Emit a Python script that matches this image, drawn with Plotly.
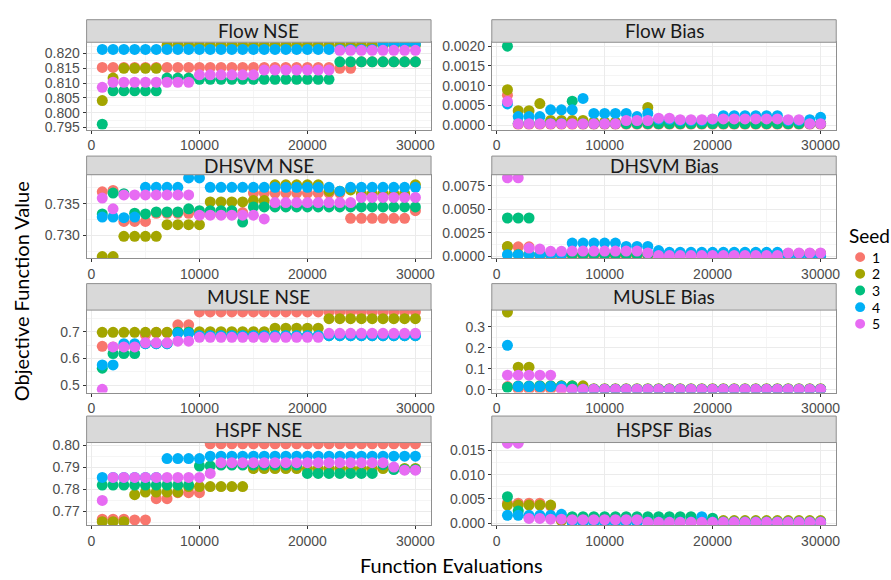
import plotly.graph_objects as go

# Function evaluations at which each seed's best objective was recorded
evals = [1000, 2000, 3000, 4000, 5000, 6000, 7000, 8000, 9000, 10000,
         11000, 12000, 13000, 14000, 15000, 16000, 17000, 18000, 19000, 20000,
         21000, 22000, 23000, 24000, 25000, 26000, 27000, 28000, 29000, 30000]

seeds = ["1", "2", "3", "4", "5"]
seed_colors = ["#F8766D", "#A3A500", "#00BF7D", "#00B0F6", "#E76BF3"]

panel_titles = ["Flow NSE", "Flow Bias", "DHSVM NSE", "DHSVM Bias",
                "MUSLE NSE", "MUSLE Bias", "HSPF NSE", "HSPSF Bias"]

# ---- series per panel: one list per seed (1..5) ----
flow_nse = [
    [0.8153, 0.8153, 0.8153, 0.8153, 0.8153, 0.8153, 0.8153, 0.8153, 0.8153, 0.8153,
     0.8153, 0.8153, 0.8153, 0.8153, 0.8153, 0.8153, 0.8153, 0.8153, 0.8153, 0.8153,
     0.8153, 0.8153, 0.8150, 0.8150, 0.8172, 0.8172, 0.8172, 0.8172, 0.8172, 0.8172],
    [0.8041, 0.8117, 0.8150, 0.8150, 0.8150, 0.8150, 0.8228, 0.8228, 0.8228, 0.8228,
     0.8228, 0.8228, 0.8228, 0.8228, 0.8228, 0.8228, 0.8228, 0.8228, 0.8228, 0.8228,
     0.8228, 0.8228, 0.8228, 0.8228, 0.8228, 0.8228, 0.8228, 0.8228, 0.8228, 0.8228],
    [0.7961, 0.8074, 0.8074, 0.8074, 0.8074, 0.8074, 0.8117, 0.8117, 0.8117, 0.8113,
     0.8113, 0.8113, 0.8113, 0.8113, 0.8113, 0.8113, 0.8113, 0.8113, 0.8113, 0.8113,
     0.8113, 0.8113, 0.8172, 0.8172, 0.8172, 0.8172, 0.8172, 0.8172, 0.8172, 0.8172],
    [0.8214, 0.8214, 0.8214, 0.8214, 0.8214, 0.8214, 0.8214, 0.8214, 0.8214, 0.8214,
     0.8214, 0.8214, 0.8214, 0.8214, 0.8214, 0.8214, 0.8214, 0.8214, 0.8214, 0.8214,
     0.8214, 0.8214, 0.8214, 0.8214, 0.8214, 0.8214, 0.8232, 0.8232, 0.8232, 0.8232],
    [0.8086, 0.8103, 0.8103, 0.8103, 0.8103, 0.8103, 0.8103, 0.8103, 0.8103, 0.8128,
     0.8128, 0.8128, 0.8128, 0.8128, 0.8128, 0.8144, 0.8144, 0.8144, 0.8144, 0.8144,
     0.8144, 0.8144, 0.8211, 0.8211, 0.8211, 0.8211, 0.8211, 0.8211, 0.8211, 0.8211],
]

flow_bias = [
    [0.00076, 0.00002, 0.00002, 0.00002, 0.00002, 0.00002, 0.00002, 0.00002, 0.00002, 0.00002,
     0.00002, 0.00002, 0.00002, 0.00002, 0.00002, 0.00002, 0.00002, 0.00002, 0.00002, 0.00002,
     0.00002, 0.00002, 0.00002, 0.00002, 0.00002, 0.00002, 0.00002, 0.00002, 0.00002, 0.00002],
    [0.00090, 0.00037, 0.00037, 0.00055, 0.00012, 0.00012, 0.00012, 0.00012, 0.00008, 0.00008,
     0.00008, 0.00008, 0.00008, 0.00045, 0.00005, 0.00005, 0.00005, 0.00005, 0.00005, 0.00005,
     0.00005, 0.00005, 0.00005, 0.00005, 0.00005, 0.00005, 0.00005, 0.00005, 0.00005, 0.00005],
    [0.00200, 0.00005, 0.00005, 0.00005, 0.00005, 0.00005, 0.00061, 0.00004, 0.00004, 0.00004,
     0.00004, 0.00004, 0.00004, 0.00004, 0.00004, 0.00004, 0.00004, 0.00004, 0.00004, 0.00004,
     0.00004, 0.00004, 0.00004, 0.00004, 0.00004, 0.00004, 0.00004, 0.00004, 0.00004, 0.00004],
    [0.00054, 0.00022, 0.00022, 0.00022, 0.00039, 0.00039, 0.00039, 0.00068, 0.00030, 0.00030,
     0.00030, 0.00030, 0.00022, 0.00030, 0.00015, 0.00015, 0.00012, 0.00012, 0.00012, 0.00015,
     0.00024, 0.00024, 0.00024, 0.00024, 0.00024, 0.00024, 0.00012, 0.00012, 0.00014, 0.00020],
    [0.00060, 0.00004, 0.00004, 0.00004, 0.00004, 0.00004, 0.00004, 0.00004, 0.00004, 0.00004,
     0.00004, 0.00012, 0.00012, 0.00012, 0.00018, 0.00018, 0.00014, 0.00014, 0.00014, 0.00016,
     0.00016, 0.00016, 0.00016, 0.00016, 0.00016, 0.00016, 0.00014, 0.00014, 0.00004, 0.00004],
]

dhsvm_nse = [
    [0.7369, 0.7371, 0.7322, 0.7322, 0.7322, 0.7335, 0.7335, 0.7335, 0.7335, 0.7333,
     0.7333, 0.7333, 0.7333, 0.7336, 0.7367, 0.7367, 0.7367, 0.7367, 0.7367, 0.7367,
     0.7367, 0.7367, 0.7367, 0.7327, 0.7327, 0.7327, 0.7327, 0.7327, 0.7327, 0.7339],
    [0.72665, 0.72665, 0.72985, 0.72985, 0.72985, 0.72985, 0.7317, 0.7317, 0.7317, 0.7317,
     0.7353, 0.7353, 0.7353, 0.7353, 0.7355, 0.7355, 0.7380, 0.7380, 0.7380, 0.7380,
     0.7380, 0.7370, 0.7370, 0.7372, 0.7366, 0.7366, 0.7366, 0.7366, 0.7366, 0.7380],
    [0.7334, 0.7367, 0.7366, 0.7335, 0.7334, 0.7337, 0.7337, 0.7337, 0.7342, 0.7339,
     0.7339, 0.7339, 0.7339, 0.7321, 0.7345, 0.7345, 0.7345, 0.7345, 0.7345, 0.7345,
     0.7345, 0.7345, 0.7345, 0.7345, 0.7345, 0.7345, 0.7345, 0.7345, 0.7345, 0.7345],
    [0.7329, 0.7329, 0.7328, 0.7329, 0.7376, 0.7376, 0.7376, 0.7376, 0.7391, 0.7391,
     0.7376, 0.7376, 0.7376, 0.7376, 0.7376, 0.7376, 0.7376, 0.7376, 0.7376, 0.7376,
     0.7376, 0.7376, 0.7370, 0.7376, 0.7376, 0.7376, 0.7376, 0.7376, 0.7376, 0.7376],
    [0.7359, 0.7342, 0.7364, 0.7364, 0.7364, 0.7364, 0.7364, 0.7364, 0.7364, 0.7332,
     0.7332, 0.7332, 0.7332, 0.7332, 0.7332, 0.7326, 0.7352, 0.7352, 0.7352, 0.7352,
     0.7352, 0.7352, 0.7352, 0.7352, 0.7360, 0.7360, 0.7360, 0.7360, 0.7360, 0.7360],
]

dhsvm_bias = [
    [0.00100, 0.00100, 0.00100, 0.00005, 0.00005, 0.00005, 0.00005, 0.00005, 0.00005, 0.00005,
     0.00005, 0.00005, 0.00005, 0.00005, 0.00005, 0.00005, 0.00005, 0.00005, 0.00005, 0.00005,
     0.00005, 0.00005, 0.00005, 0.00005, 0.00005, 0.00005, 0.00005, 0.00005, 0.00005, 0.00005],
    [0.00105, 0.00020, 0.00020, 0.00020, 0.00020, 0.00020, 0.00020, 0.00020, 0.00020, 0.00020,
     0.00020, 0.00020, 0.00020, 0.00020, 0.00030, 0.00030, 0.00030, 0.00030, 0.00030, 0.00030,
     0.00030, 0.00030, 0.00030, 0.00030, 0.00030, 0.00030, 0.00030, 0.00030, 0.00030, 0.00030],
    [0.00408, 0.00408, 0.00408, 0.00020, 0.00020, 0.00020, 0.00020, 0.00020, 0.00020, 0.00020,
     0.00020, 0.00020, 0.00020, 0.00020, 0.00020, 0.00020, 0.00020, 0.00020, 0.00020, 0.00020,
     0.00020, 0.00035, 0.00035, 0.00035, 0.00035, 0.00020, 0.00020, 0.00020, 0.00020, 0.00020],
    [0.00017, 0.00017, 0.00017, 0.00017, 0.00017, 0.00017, 0.00140, 0.00140, 0.00140, 0.00140,
     0.00140, 0.00105, 0.00105, 0.00105, 0.00060, 0.00042, 0.00042, 0.00042, 0.00042, 0.00042,
     0.00042, 0.00042, 0.00042, 0.00042, 0.00042, 0.00042, 0.00002, 0.00002, 0.00002, 0.00002],
    [0.00837, 0.00837, 0.00087, 0.00077, 0.00052, 0.00052, 0.00055, 0.00055, 0.00055, 0.00055,
     0.00055, 0.00055, 0.00055, 0.00035, 0.00007, 0.00007, 0.00007, 0.00007, 0.00007, 0.00007,
     0.00007, 0.00007, 0.00007, 0.00007, 0.00007, 0.00007, 0.00035, 0.00035, 0.00035, 0.00035],
]

musle_nse = [
    [0.645, 0.643, 0.643, 0.643, 0.688, 0.697, 0.697, 0.7256, 0.7256, 0.774,
     0.774, 0.774, 0.774, 0.774, 0.774, 0.774, 0.774, 0.774, 0.774, 0.774,
     0.774, 0.774, 0.774, 0.774, 0.774, 0.774, 0.774, 0.774, 0.774, 0.774],
    [0.6976, 0.6976, 0.6976, 0.6976, 0.6976, 0.6976, 0.6976, 0.6976, 0.6976, 0.700,
     0.700, 0.700, 0.700, 0.700, 0.700, 0.700, 0.713, 0.713, 0.713, 0.713,
     0.713, 0.749, 0.749, 0.749, 0.749, 0.749, 0.749, 0.749, 0.749, 0.749],
    [0.5634, 0.618, 0.618, 0.618, 0.655, 0.655, 0.655, 0.698, 0.698, 0.685,
     0.685, 0.685, 0.685, 0.685, 0.685, 0.685, 0.685, 0.685, 0.685, 0.685,
     0.685, 0.685, 0.685, 0.685, 0.685, 0.685, 0.685, 0.685, 0.685, 0.685],
    [0.5756, 0.5756, 0.655, 0.655, 0.655, 0.655, 0.655, 0.694, 0.694, 0.685,
     0.685, 0.685, 0.685, 0.685, 0.685, 0.685, 0.685, 0.685, 0.685, 0.685,
     0.685, 0.685, 0.685, 0.685, 0.685, 0.685, 0.685, 0.685, 0.685, 0.685],
    [0.484, 0.643, 0.643, 0.643, 0.6585, 0.6585, 0.6585, 0.6646, 0.6646, 0.679,
     0.679, 0.679, 0.679, 0.679, 0.679, 0.679, 0.679, 0.679, 0.679, 0.679,
     0.679, 0.694, 0.694, 0.694, 0.694, 0.694, 0.694, 0.694, 0.694, 0.694],
]

musle_bias = [
    [0.0155, 0.003, 0.003, 0.003, 0.003, 0.003, 0.003, 0.003, 0.003, 0.003,
     0.003, 0.003, 0.003, 0.003, 0.003, 0.003, 0.003, 0.003, 0.003, 0.003,
     0.003, 0.003, 0.003, 0.003, 0.003, 0.003, 0.003, 0.003, 0.003, 0.003],
    [0.371, 0.108, 0.108, 0.019, 0.019, 0.019, 0.019, 0.019, 0.005, 0.005,
     0.005, 0.005, 0.005, 0.005, 0.005, 0.005, 0.005, 0.005, 0.005, 0.005,
     0.005, 0.005, 0.005, 0.005, 0.005, 0.005, 0.005, 0.005, 0.005, 0.005],
    [0.012, 0.018, 0.018, 0.018, 0.018, 0.018, 0.0186, 0.003, 0.003, 0.003,
     0.003, 0.003, 0.003, 0.003, 0.003, 0.003, 0.003, 0.003, 0.003, 0.003,
     0.003, 0.003, 0.003, 0.003, 0.003, 0.003, 0.003, 0.003, 0.003, 0.003],
    [0.212, 0.0155, 0.0155, 0.0155, 0.0155, 0.0155, 0.002, 0.002, 0.002, 0.002,
     0.002, 0.002, 0.002, 0.002, 0.002, 0.002, 0.002, 0.002, 0.002, 0.002,
     0.002, 0.002, 0.002, 0.002, 0.002, 0.002, 0.002, 0.002, 0.002, 0.002],
    [0.0696, 0.0696, 0.0696, 0.0696, 0.0696, 0.002, 0.002, 0.002, 0.002, 0.002,
     0.002, 0.002, 0.002, 0.002, 0.002, 0.002, 0.002, 0.002, 0.002, 0.002,
     0.002, 0.002, 0.002, 0.002, 0.002, 0.002, 0.002, 0.002, 0.002, 0.002],
]

hspf_nse = [
    [0.7663, 0.7663, 0.7663, 0.7660, 0.7660, 0.7757, 0.7757, 0.7784, 0.7784, 0.7784,
     0.8007, 0.8007, 0.8007, 0.8007, 0.8007, 0.8007, 0.8007, 0.8007, 0.8007, 0.8007,
     0.8007, 0.8007, 0.8007, 0.8007, 0.8007, 0.8007, 0.8007, 0.8007, 0.8007, 0.8007],
    [0.7652, 0.7652, 0.7652, 0.7775, 0.7787, 0.7787, 0.7787, 0.7787, 0.7812, 0.7812,
     0.7812, 0.7812, 0.7812, 0.7812, 0.7894, 0.7894, 0.7894, 0.7894, 0.7894, 0.7894,
     0.7894, 0.7894, 0.7894, 0.7894, 0.7894, 0.7894, 0.7894, 0.7895, 0.7895, 0.7895],
    [0.7819, 0.7819, 0.7819, 0.7819, 0.7819, 0.7819, 0.7819, 0.7819, 0.7819, 0.7906,
     0.7906, 0.7910, 0.7910, 0.7910, 0.7910, 0.7910, 0.7910, 0.7910, 0.7910, 0.7872,
     0.7872, 0.7872, 0.7872, 0.7872, 0.7872, 0.7872, 0.7912, 0.7890, 0.7890, 0.7890],
    [0.7854, 0.7854, 0.7854, 0.7854, 0.7854, 0.7854, 0.7940, 0.7940, 0.7940, 0.7940,
     0.7951, 0.7951, 0.7951, 0.7951, 0.7951, 0.7951, 0.7951, 0.7951, 0.7951, 0.7951,
     0.7951, 0.7951, 0.7951, 0.7951, 0.7951, 0.7951, 0.7951, 0.7951, 0.7951, 0.7951],
    [0.7749, 0.7854, 0.7854, 0.7854, 0.7854, 0.7854, 0.7854, 0.7854, 0.7854, 0.7854,
     0.7872, 0.7921, 0.7921, 0.7921, 0.7921, 0.7921, 0.7921, 0.7921, 0.7921, 0.7921,
     0.7921, 0.7921, 0.7921, 0.7921, 0.7921, 0.7921, 0.7921, 0.7901, 0.7887, 0.7887],
]

hspsf_bias = [
    [0.0041, 0.0041, 0.0041, 0.0041, 0.0035, 0.0006, 0.0002, 0.0002, 0.0002, 0.0002,
     0.0002, 0.0002, 0.0002, 0.0002, 0.0002, 0.0002, 0.0002, 0.0002, 0.0002, 0.0002,
     0.0002, 0.0002, 0.0002, 0.0002, 0.0002, 0.0002, 0.0002, 0.0002, 0.0002, 0.0002],
    [0.0037, 0.0037, 0.0037, 0.0037, 0.0037, 0.0005, 0.0005, 0.0005, 0.0005, 0.0005,
     0.0005, 0.0005, 0.0005, 0.0005, 0.0005, 0.0005, 0.0005, 0.0005, 0.0005, 0.0005,
     0.0005, 0.0005, 0.0005, 0.0005, 0.0005, 0.0005, 0.0005, 0.0005, 0.0005, 0.0005],
    [0.00545, 0.0025, 0.0012, 0.0012, 0.0012, 0.0012, 0.0013, 0.0013, 0.0013, 0.0013,
     0.0013, 0.0013, 0.0013, 0.0013, 0.0013, 0.0013, 0.0013, 0.0013, 0.0010, 0.0010,
     0.0001, 0.0001, 0.0001, 0.0001, 0.0001, 0.0001, 0.0001, 0.0001, 0.0001, 0.0001],
    [0.0016, 0.0016, 0.0016, 0.0016, 0.0016, 0.0018, 0.0001, 0.0001, 0.0001, 0.0001,
     0.0001, 0.0001, 0.0001, 0.0002, 0.0002, 0.0002, 0.0002, 0.0002, 0.0013, 0.0002,
     0.0002, 0.0002, 0.0002, 0.0002, 0.0002, 0.0002, 0.0002, 0.0002, 0.0002, 0.0002],
    [0.0165, 0.0165, 0.00095, 0.00095, 0.0008, 0.0008, 0.0007, 0.0007, 0.0007, 0.0007,
     0.0007, 0.0007, 0.0007, 0.00014, 0.00014, 0.00014, 0.00014, 0.00014, 0.00014, 0.00014,
     0.00014, 0.00014, 0.00014, 0.00014, 0.00014, 0.00014, 0.00014, 0.00014, 0.00014, 0.00014],
]

panel_series = [flow_nse, flow_bias, dhsvm_nse, dhsvm_bias,
                musle_nse, musle_bias, hspf_nse, hspsf_bias]

# y-axis ticks for each facet (free scales)
y_ticks = [
    [0.795, 0.800, 0.805, 0.810, 0.815, 0.820],
    [0.0000, 0.0005, 0.0010, 0.0015, 0.0020],
    [0.730, 0.735],
    [0.0000, 0.0025, 0.0050, 0.0075],
    [0.5, 0.6, 0.7],
    [0.0, 0.1, 0.2, 0.3],
    [0.77, 0.78, 0.79, 0.80],
    [0.000, 0.005, 0.010, 0.015],
]
y_formats = [".3f", ".4f", ".3f", ".4f", ".1f", ".1f", ".2f", ".3f"]
y_ranges = [(0.7943, 0.8238), (-0.00011, 0.0021), (0.7264, 0.7396), (-0.0002, 0.0087),
            (0.472, 0.781), (-0.013, 0.38), (0.7637, 0.8013), (-0.0004, 0.01664)]
x_ticks = [0, 10000, 20000, 30000]

# ---- page geometry (pixels) ----
W, H = 891, 580
col_px = [(87, 433), (494, 840)]
row_px = [(38, 127), (173, 258), (311, 395), (446, 530)]
strip_top = [15, 154, 284, 419]
legend_rows_px = [257, 274, 291, 308, 325]


def fx(px):
    return px / W


def fy(py):
    return 1 - py / H


GRID = "#ebebeb"
MINOR = "#f5f5f5"
BORDER = "#8f8f8f"
TICKFONT = dict(family="Liberation Sans, Arial, sans-serif", size=14, color="#4d4d4d")
TITLEFONT = "Lato, Open Sans, sans-serif"

fig = go.Figure()
shapes, annotations = [], []

for p, series in enumerate(panel_series):
    r, c = divmod(p, 2)
    sfx = "" if p == 0 else str(p + 1)
    for s, vals in enumerate(series):
        fig.add_trace(go.Scatter(
            x=evals, y=vals, mode="markers",
            marker=dict(size=11, color=seed_colors[s], line=dict(width=0)),
            name=seeds[s], showlegend=False,
            xaxis="x" + sfx, yaxis="y" + sfx,
        ))
    x0, x1 = col_px[c]
    ytop, ybot = row_px[r]
    ystep = y_ticks[p][1] - y_ticks[p][0]
    fig.layout["xaxis" + sfx] = dict(
        domain=[fx(x0), fx(x1)], anchor="y" + sfx, range=[-450, 31450],
        tickvals=x_ticks, tickformat="d", ticks="outside", ticklen=3,
        tickcolor="#333333", tickfont=TICKFONT, showgrid=True, gridcolor=GRID,
        gridwidth=1, zeroline=False, showline=True, mirror=True,
        linecolor=BORDER, linewidth=1,
        minor=dict(dtick=5000, tick0=0, showgrid=True, gridcolor=MINOR, gridwidth=0.6),
    )
    fig.layout["yaxis" + sfx] = dict(
        domain=[fy(ybot), fy(ytop)], anchor="x" + sfx, range=list(y_ranges[p]),
        tickvals=y_ticks[p], tickformat=y_formats[p], ticks="outside", ticklen=3,
        tickcolor="#333333", tickfont=TICKFONT, showgrid=True, gridcolor=GRID,
        gridwidth=1, zeroline=False, showline=True, mirror=True,
        linecolor=BORDER, linewidth=1,
        minor=dict(dtick=ystep / 2, tick0=y_ticks[p][0], showgrid=True,
                   gridcolor=MINOR, gridwidth=0.6),
    )
    # facet strip
    shapes.append(dict(type="rect", xref="paper", yref="paper",
                       x0=fx(x0), x1=fx(x1), y0=fy(ytop), y1=fy(strip_top[r]),
                       fillcolor="#d9d9d9", line=dict(color=BORDER, width=1),
                       layer="above"))
    annotations.append(dict(text=panel_titles[p], xref="paper", yref="paper",
                            x=fx((x0 + x1) / 2), y=fy((ytop + strip_top[r]) / 2),
                            showarrow=False, xanchor="center", yanchor="middle",
                            font=dict(family=TITLEFONT, size=19, color="#1a1a1a")))

# shared axis titles
annotations.append(dict(text="Objective Function Value", xref="paper", yref="paper",
                        x=fx(22), y=fy(292), textangle=-90, showarrow=False,
                        xanchor="center", yanchor="middle",
                        font=dict(family=TITLEFONT, size=20, color="#000000")))
annotations.append(dict(text="Function Evaluations", xref="paper", yref="paper",
                        x=fx(454), y=fy(571), showarrow=False,
                        xanchor="center", yanchor="middle",
                        font=dict(family=TITLEFONT, size=20, color="#000000")))

# compact seed legend (key dots + labels)
annotations.append(dict(text="Seed", xref="paper", yref="paper",
                        x=fx(851), y=fy(235), showarrow=False,
                        xanchor="left", yanchor="middle",
                        font=dict(family=TITLEFONT, size=19, color="#000000")))
for s, ypx in enumerate(legend_rows_px):
    shapes.append(dict(type="circle", xref="paper", yref="paper",
                       x0=fx(864 - 5), x1=fx(864 + 5), y0=fy(ypx + 5), y1=fy(ypx - 5),
                       fillcolor=seed_colors[s], line=dict(width=0)))
    annotations.append(dict(text=seeds[s], xref="paper", yref="paper",
                            x=fx(874), y=fy(ypx), showarrow=False,
                            xanchor="left", yanchor="middle",
                            font=dict(family=TITLEFONT, size=14, color="#000000")))

fig.update_layout(
    width=W, height=H, margin=dict(l=0, r=0, t=0, b=0),
    paper_bgcolor="white", plot_bgcolor="white", showlegend=False,
    shapes=shapes, annotations=annotations,
)

fig.write_html("out.html")
